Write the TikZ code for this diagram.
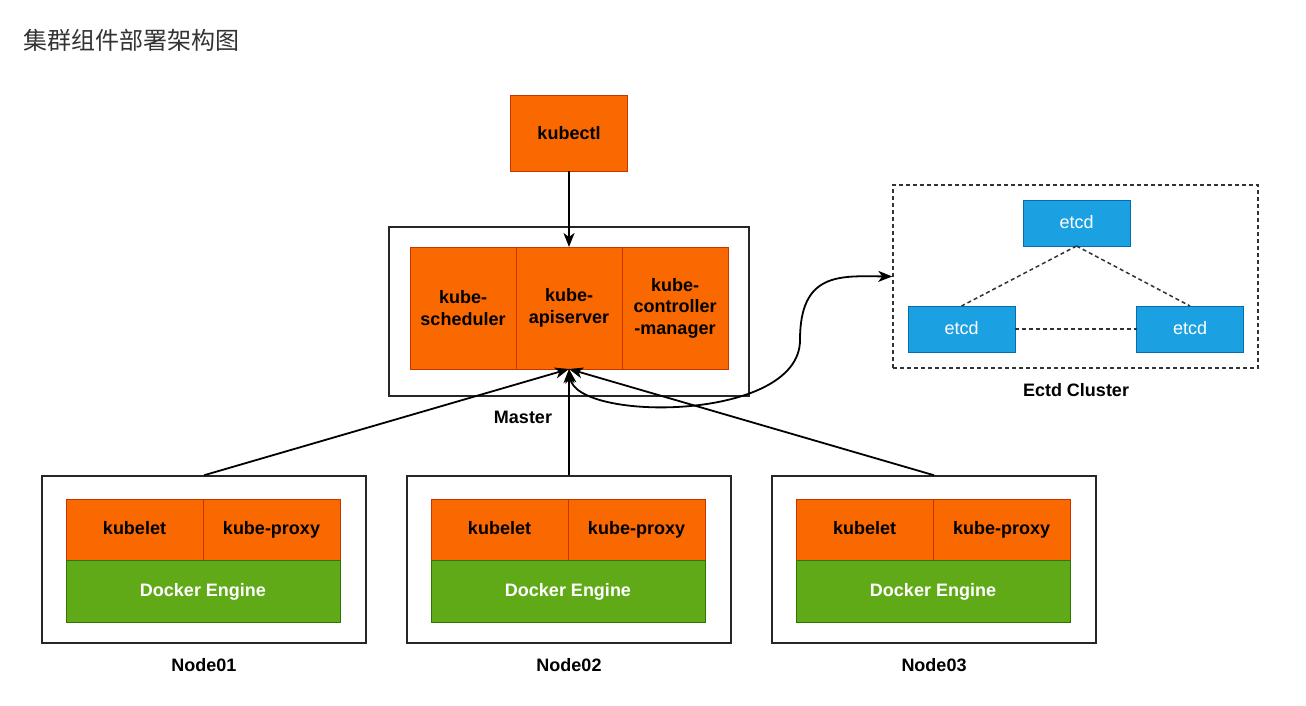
\documentclass[tikz,border=0pt]{standalone}
\usepackage{fontspec}
\setmainfont{Liberation Sans}
\newfontfamily\cjkfont{Noto Sans CJK SC}
\usepackage{xcolor}
\usetikzlibrary{positioning,arrows.meta}

\definecolor{kubeorange}{HTML}{FA6800}
\definecolor{kubeorangeline}{HTML}{C73500}
\definecolor{dockergreen}{HTML}{60A917}
\definecolor{dockergreenline}{HTML}{2D7600}
\definecolor{etcdblue}{HTML}{1BA1E2}
\definecolor{etcdblueline}{HTML}{006EAF}
\definecolor{titlegray}{HTML}{333333}

\begin{document}
\begin{tikzpicture}[
  x=1pt, y=-1pt,
  block/.style={rectangle, draw, line width=1pt, inner sep=0pt, outer sep=0pt, align=center,
    font=\fontsize{18}{21.5}\selectfont\bfseries},
  kube/.style={block, fill=kubeorange, draw=kubeorangeline, minimum width=106pt, minimum height=122pt},
  agentb/.style={block, fill=kubeorange, draw=kubeorangeline, minimum width=137pt, minimum height=61pt,
    text height=13pt, text depth=3pt},
  docker/.style={block, fill=dockergreen, draw=dockergreenline, text=white, minimum width=274pt, minimum height=62pt,
    text height=13pt, text depth=3pt},
  etcdb/.style={block, fill=etcdblue, draw=etcdblueline, text=white, font=\fontsize{18}{21}\selectfont,
    minimum width=107pt, minimum height=46pt, text height=13pt, text depth=3pt},
  host/.style={rectangle, draw=black!85, line width=1.5pt, minimum width=324pt, minimum height=167pt},
  caption/.style={font=\fontsize{18}{21}\selectfont\bfseries},
  arrow/.style={-{Stealth[length=14pt, width=11pt, inset=4pt]}, line width=1.8pt},
  darrow/.style={{Stealth[length=14pt, width=11pt, inset=4pt]}-{Stealth[length=14pt, width=11pt, inset=4pt]}, line width=1.8pt},
  peer/.style={dash pattern=on 4pt off 3pt, line width=1.5pt, black!80},
]
\useasboundingbox (0,0) rectangle (1306,705);

% Title
\node[anchor=west, inner sep=0pt, text=titlegray, font=\cjkfont\fontsize{24}{24}\selectfont] (title) at (23,40) {集群组件部署架构图};

% kubectl on top
\node[block, fill=kubeorange, draw=kubeorangeline, minimum width=117pt, minimum height=76pt] (ctl) at (569,133) {kubectl};

% Master
\node[host, minimum width=360pt, minimum height=169pt] (master) at (569,311.5) {};
\node[kube] (api) at (569,308) {kube-\\apiserver};
\node[kube, left=0pt of api] (sched) {kube-\\scheduler};
\node[kube, right=0pt of api] (cm) {kube-\\controller\\-manager};
\node[caption] (masterlbl) at (523,417) {Master};

% Etcd cluster (right)
\node[rectangle, draw=black!80, dash pattern=on 4pt off 3pt, line width=1.5pt, minimum width=365pt, minimum height=183pt] (cluster) at (1075.5,276.5) {};
\node[etcdb] (etcd1) at (1076.5,223) {etcd};
\node[etcdb] (etcd2) at (961.5,329) {etcd};
\node[etcdb] (etcd3) at (1190,329) {etcd};
\node[caption] (clusterlbl) at (1076,390) {Ectd Cluster};

% Worker nodes
\node[host] (n1) at (204,559.5) {};
\node[agentb] (kl1) at (134.5,529.5) {kubelet};
\node[agentb, right=0pt of kl1] (kp1) {kube-proxy};
\node[docker, below=0pt of kl1.south west, anchor=north west] (de1) {Docker Engine};
\node[caption] (n1lbl) at (204,665) {Node01};

\node[host] (n2) at (569,559.5) {};
\node[agentb] (kl2) at (499.5,529.5) {kubelet};
\node[agentb, right=0pt of kl2] (kp2) {kube-proxy};
\node[docker, below=0pt of kl2.south west, anchor=north west] (de2) {Docker Engine};
\node[caption] (n2lbl) at (569,665) {Node02};

\node[host] (n3) at (934,559.5) {};
\node[agentb] (kl3) at (864.5,529.5) {kubelet};
\node[agentb, right=0pt of kl3] (kp3) {kube-proxy};
\node[docker, below=0pt of kl3.south west, anchor=north west] (de3) {Docker Engine};
\node[caption] (n3lbl) at (934,665) {Node03};

% Arrows
\draw[arrow] (ctl) -- (api);
\draw[arrow] (n1.north) -- (api.south);
\draw[arrow] (n2.north) -- (api.south);
\draw[arrow] (n3.north) -- (api.south);

% apiserver <-> etcd
\coordinate (bend) at (800,340);
\draw[darrow] (api.south) .. controls (576,422) and (800,422) .. (bend)
  .. controls (800,272) and (840,276) .. (cluster.west);

% etcd peers
\draw[peer] (etcd1.south) -- (etcd2.north);
\draw[peer] (etcd1.south) -- (etcd3.north);
\draw[peer] (etcd2) -- (etcd3);

\end{tikzpicture}
\end{document}
